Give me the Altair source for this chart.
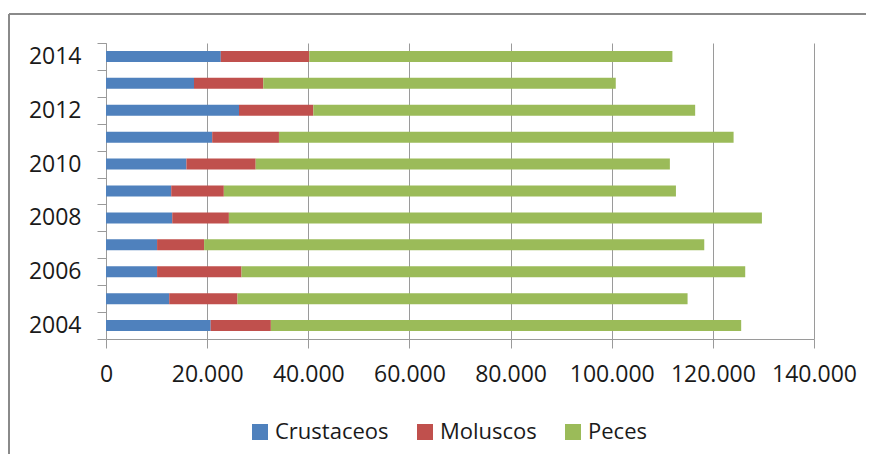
import altair as alt
import pandas as pd

years = list(range(2004, 2015))
crustaceos = [20700, 12500, 10100, 10100, 13100, 12900, 15900, 21000, 26300, 17400, 22700]
moluscos = [11900, 13500, 16700, 9300, 11200, 10400, 13700, 13200, 14700, 13700, 17500]
peces = [93000, 89000, 99600, 98900, 105400, 89400, 81900, 89900, 75500, 69700, 71800]
series = ["Crustaceos", "Moluscos", "Peces"]
colors = ["#4F81BD", "#C0504D", "#9BBB59"]
x_ticks = [0, 20000, 40000, 60000, 80000, 100000, 120000, 140000]
year_labels = [2004, 2006, 2008, 2010, 2012, 2014]

rows = []
for i, y in enumerate(years):
    for k, (name, vals) in enumerate(zip(series, [crustaceos, moluscos, peces])):
        rows.append({"anio": y, "serie": name, "valor": vals[i], "orden": k})
df = pd.DataFrame(rows)

boundaries = [y - 0.5 for y in years] + [years[-1] + 0.5]
ydomain = [years[0] - 0.5, years[-1] + 0.5]

FONT = "Open Sans"
GRID = "#9a9a9a"
TXT = "#1a1a1a"

bars = alt.Chart(df).mark_bar(size=11, orient="horizontal").encode(
    x=alt.X(
        "valor:Q",
        stack="zero",
        title=None,
        scale=alt.Scale(domain=[0, 140000], nice=False, padding=0),
        axis=alt.Axis(
            values=x_ticks,
            labelExpr="replace(format(datum.value, ','), ',', '.')",
            labelOverlap=False,
            labelFlush=False,
            grid=True,
            gridColor=GRID,
            gridWidth=1,
            tickSize=9,
            tickColor=GRID,
            domainColor=GRID,
            labelFont=FONT,
            labelFontSize=23,
            labelColor=TXT,
            labelPadding=15,
        ),
    ),
    y=alt.Y(
        "anio:Q",
        title=None,
        scale=alt.Scale(domain=ydomain, nice=False, zero=False, padding=0),
        axis=alt.Axis(
            values=year_labels,
            format="d",
            ticks=False,
            grid=False,
            domainColor=GRID,
            labelFont=FONT,
            labelFontSize=23,
            labelColor=TXT,
            labelPadding=25,
            labelOverlap=False,
            labelFlush=False,
            orient="left",
        ),
    ),
    color=alt.Color(
        "serie:N",
        scale=alt.Scale(domain=series, range=colors),
        legend=alt.Legend(
            title=None,
            orient="none",
            legendX=143,
            legendY=378,
            direction="horizontal",
            symbolType="square",
            symbolSize=256,
            symbolStrokeWidth=0,
            labelFont=FONT,
            labelFontSize=22,
            labelColor=TXT,
            labelOffset=4,
            columnPadding=25,
            padding=0,
        ),
    ),
    order=alt.Order("orden:Q"),
)

ticks_layer = alt.Chart(pd.DataFrame({"b": boundaries})).mark_point(opacity=0).encode(
    y=alt.Y(
        "b:Q",
        title=None,
        scale=alt.Scale(domain=ydomain, nice=False, zero=False, padding=0),
        axis=alt.Axis(
            values=boundaries,
            labels=False,
            ticks=True,
            tickSize=9,
            tickColor=GRID,
            domain=False,
            grid=False,
            orient="left",
        ),
    ),
)

dummy = pd.DataFrame({"a": [0]})
border_top = alt.Chart(dummy).mark_rule(color="#8a8a8a", strokeWidth=2).encode(
    x=alt.value(-97), x2=alt.value(800), y=alt.value(-29)
)
border_left = alt.Chart(dummy).mark_rule(color="#8a8a8a", strokeWidth=2).encode(
    x=alt.value(-97), y=alt.value(-29), y2=alt.value(500)
)

chart = (
    alt.layer(bars, ticks_layer, border_top, border_left)
    .resolve_scale(y="independent")
    .properties(
        width=708,
        height=296,
        autosize=alt.AutoSizeParams(type="none"),
        padding={"left": 98, "top": 35, "right": 52, "bottom": 115},
        background="white",
    )
    .configure_view(stroke=None)
)

chart.save("out.html", embed_options={"renderer": "svg", "actions": False})
